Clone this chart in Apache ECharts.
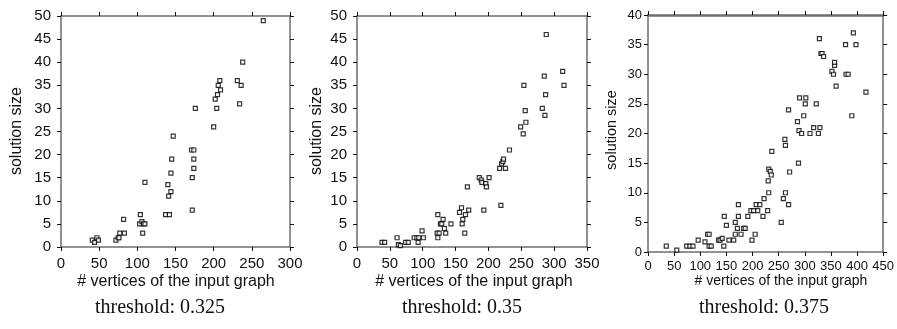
<!DOCTYPE html>
<html><head><meta charset="utf-8">
<script src="https://cdn.jsdelivr.net/npm/echarts@6/dist/echarts.min.js"></script>
<style>html,body{margin:0;padding:0;background:#fff}#c{width:897px;height:329px}</style>
</head><body><div id="c"></div><script>
// ---- data ----
const panelTitles = ["threshold: 0.325", "threshold: 0.35", "threshold: 0.375"];
const xAxisTitle = "# vertices of the input graph";
const yAxisTitle = "solution size";
const xMax = [300, 350, 450];
const yMax = [50, 50, 40];
const xStep = [50, 50, 50];
const yStep = [5, 5, 5];

const x1 = [41, 44, 47, 49, 72, 75, 76, 77, 83, 82, 104, 103, 106, 108, 110, 107, 110, 137, 142, 140, 141, 144, 144, 145, 147, 171, 174, 172, 174, 174, 172, 176, 200, 202, 204, 205, 206, 208, 209, 231, 236, 234, 238, 265];
const y1 = [1.5, 1, 2, 1.5, 1.5, 2, 2, 3, 3, 6, 7, 5, 5.5, 5, 5, 3, 14, 7, 7, 13.5, 11, 12, 16, 19, 24, 21, 21, 15, 17, 19, 8, 30, 26, 32, 30, 33, 35, 36, 34, 36, 35, 31, 40, 49];

const x2 = [38, 42, 61, 63, 66, 74, 78, 87, 91, 94, 93, 101, 99, 123, 127, 129, 131, 133, 122, 125, 123, 135, 143, 156, 159, 165, 161, 160, 164, 170, 168, 193, 186, 189, 190, 196, 197, 201, 219, 217, 220, 222, 223, 226, 232, 249, 253, 254, 256, 257, 282, 285, 286, 287, 288, 313, 315];
const y2 = [1, 1, 2, 0.5, 0.3, 1, 1, 2, 2, 2, 1, 2, 3.5, 7, 5, 5, 6, 4, 3, 3, 2, 3, 5, 7.5, 8.5, 7, 6, 5, 3, 8, 13, 8, 15, 14.5, 14, 13.7, 13, 15, 9, 17, 18, 18.5, 19, 17, 21, 26, 24.5, 35, 29.5, 27, 30, 37, 28.5, 33, 46, 38, 35];

const x3 = [35, 55, 74, 80, 86, 96, 109, 114, 117, 117, 121, 135, 138, 142, 145, 146, 150, 155, 164, 167, 167, 171, 173, 173, 178, 183, 186, 191, 197, 202, 199, 205, 207, 214, 210, 220, 222, 229, 231, 230, 231, 234, 236, 237, 255, 259, 263, 263, 262, 269, 271, 269, 286, 288, 289, 290, 294, 298, 301, 302, 310, 317, 322, 326, 328, 329, 331, 333, 336, 352, 355, 357, 357, 360, 378, 379, 383, 390, 393, 398, 417];
const y3 = [1, 0.3, 1, 1, 1, 2, 1.7, 3, 3, 1, 1, 2, 2, 2.3, 1, 6, 4.5, 2, 2, 3, 5, 4, 8, 6, 3, 4, 4, 6, 7, 7, 2, 3, 8, 8, 7, 6, 9, 7, 10, 12, 14, 13.6, 13, 17, 5, 9, 10, 18, 19, 8, 13.5, 24, 22, 15, 20.5, 26, 20, 23, 25, 26, 20, 21, 25, 20, 36, 21, 33.5, 33.5, 33, 30.5, 30, 31.5, 32, 28, 35, 30, 30, 23, 37, 35, 27];

// ---- layout ----
const grids = [
  {left: 61, top: 16, width: 229, height: 231},
  {left: 357, top: 16, width: 230, height: 231},
  {left: 648, top: 15, width: 237, height: 237}
];
const labelSize = [15, 15, 13];
const nameSize = [16, 16, 14];
const yNameSize = [16, 16, 14.5];
const xs = [x1, x2, x3], ys = [y1, y2, y3];
const FONT = '"Liberation Sans", Arial, Helvetica, sans-serif';
const lineCol = '#6e6e6e';

const xAxes = [], yAxes = [], series = [], graphic = [];
for (let i = 0; i < 3; i++) {
  const lab = {show: true, color: '#111', fontFamily: FONT, fontSize: labelSize[i], margin: i === 2 ? 8 : 9};
  const tick = {show: true, inside: false, length: 4, lineStyle: {color: '#111', width: 1}};
  const line = {show: true, onZero: false, lineStyle: {color: lineCol, width: 1.5}};
  const topLine = {show: true, onZero: false, lineStyle: {color: lineCol, width: i === 2 ? 2.5 : 1.5}};
  xAxes.push({type: 'value', gridIndex: i, min: 0, max: xMax[i], interval: xStep[i], position: 'bottom',
    axisLabel: lab, axisTick: tick, axisLine: line, splitLine: {show: false}});
  xAxes.push({type: 'value', gridIndex: i, min: 0, max: xMax[i], interval: xStep[i], position: 'top',
    axisLabel: {show: false}, axisTick: tick, axisLine: topLine, splitLine: {show: false}});
  yAxes.push({type: 'value', gridIndex: i, min: 0, max: yMax[i], interval: yStep[i], position: 'left',
    axisLabel: Object.assign({}, lab, {margin: i === 2 ? 6 : 10}), axisTick: tick, axisLine: line, splitLine: {show: false}});
  yAxes.push({type: 'value', gridIndex: i, min: 0, max: yMax[i], interval: yStep[i], position: 'right',
    axisLabel: {show: false}, axisTick: tick, axisLine: line, splitLine: {show: false}});
  series.push({
    type: 'scatter', xAxisIndex: i * 2, yAxisIndex: i * 2,
    data: xs[i].map((v, k) => [v, ys[i][k]]),
    symbol: 'rect', symbolSize: 4,
    itemStyle: {color: '#fff', borderColor: '#000', borderWidth: 1.2},
    silent: true, animation: false
  });
}
const yTitlePos = [[17, 131], [317, 131], [612, 130]];
const xTitlePos = [[176, 282], [474, 282], [781, 281]];
const thrPos = [[160, 308], [462, 308], [764, 308]];
for (let i = 0; i < 3; i++) {
  graphic.push({type: 'text', x: yTitlePos[i][0], y: yTitlePos[i][1], rotation: Math.PI / 2,
    style: {text: yAxisTitle, font: yNameSize[i] + 'px ' + FONT, fill: '#111', align: 'center', verticalAlign: 'middle'}});
  graphic.push({type: 'text', x: xTitlePos[i][0], y: xTitlePos[i][1],
    style: {text: xAxisTitle, font: nameSize[i] + 'px ' + FONT, fill: '#111', align: 'center', verticalAlign: 'middle'}});
  graphic.push({type: 'text', x: thrPos[i][0], y: thrPos[i][1],
    style: {text: panelTitles[i], font: '20px "Liberation Serif", "Times New Roman", serif', fill: '#111', align: 'center', verticalAlign: 'middle'}});
}

const chart = echarts.init(document.getElementById('c'), null, {renderer: 'canvas'});
chart.setOption({
  animation: false,
  backgroundColor: '#fff',
  grid: grids,
  xAxis: xAxes,
  yAxis: yAxes,
  series: series,
  graphic: graphic
});
</script></body></html>
